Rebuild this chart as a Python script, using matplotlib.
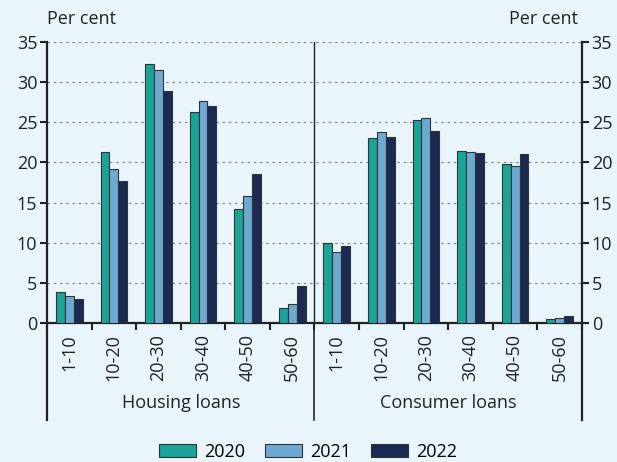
import matplotlib.pyplot as plt
import matplotlib.transforms as mtransforms
import numpy as np

plt.rcParams['font.family'] = ['Open Sans', 'DejaVu Sans']

buckets = ['1-10', '10-20', '20-30', '30-40', '40-50', '50-60']
groups = ['Housing loans', 'Consumer loans']
years = ['2020', '2021', '2022']
colors = ['#1aa397', '#6ea9d1', '#1a2a52']

housing = {
    '2020': [3.9, 21.3, 32.3, 26.3, 14.2, 1.9],
    '2021': [3.3, 19.2, 31.5, 27.7, 15.8, 2.4],
    '2022': [3.0, 17.7, 28.9, 27.0, 18.5, 4.6],
}
consumer = {
    '2020': [10.0, 23.0, 25.3, 21.4, 19.8, 0.5],
    '2021': [8.9, 23.8, 25.5, 21.3, 19.5, 0.6],
    '2022': [9.6, 23.2, 23.9, 21.2, 21.0, 0.9],
}

bg = '#e9f4fb'
fig = plt.figure(figsize=(6.17, 4.62), dpi=100, facecolor=bg)
ax = fig.add_axes([0.0762, 0.301, 0.867, 0.608], facecolor=bg)

n = len(buckets)
x = np.arange(2 * n) + 0.5
w = 0.2
for i, yr in enumerate(years):
    vals = housing[yr] + consumer[yr]
    ax.bar(x + (i - 1) * w, vals, width=w, color=colors[i],
           edgecolor='#333333', linewidth=0.8, label=yr, zorder=3)

ax.set_xlim(0, 2 * n)
ax.set_ylim(0, 35)
ax.set_yticks(range(0, 36, 5))
ax.yaxis.grid(True, color='#888888', linestyle=(0, (2, 3)), linewidth=0.9)
ax.set_axisbelow(True)

for s in ['left', 'right', 'bottom']:
    ax.spines[s].set_linewidth(1.6)
    ax.spines[s].set_color('#222222')
ax.spines['top'].set_visible(False)

ax.tick_params(axis='y', direction='out', length=5, width=1.5,
               labelsize=13, colors='#222222', pad=2)
ax.set_xticks(np.arange(0, 2 * n + 1))
ax.set_xticklabels([])
ax.tick_params(axis='x', direction='out', length=5, width=1.5, colors='#222222')

ax2 = ax.twinx()
ax2.set_ylim(0, 35)
ax2.set_yticks(range(0, 36, 5))
ax2.tick_params(axis='y', direction='out', length=5, width=1.5,
                labelsize=13, colors='#222222', pad=2)
for s in ax2.spines.values():
    s.set_visible(False)

# divider between groups
ax.axvline(n, color='#222222', linewidth=1, zorder=4)

trans = mtransforms.blended_transform_factory(ax.transData, ax.transAxes)
for xv in [0, n, 2 * n]:
    ax.plot([xv, xv], [0, -0.345], transform=trans, color='#222222',
            linewidth=1.2 if xv == n else 1.6, clip_on=False)

labels = buckets + buckets
for xi, lab in zip(x, labels):
    ax.text(xi, -0.04, lab, transform=trans, rotation=90, ha='center',
            va='top', fontsize=13, color='#222222')

for gi, g in enumerate(groups):
    ax.text(gi * n + n / 2, -0.285, g, transform=trans, ha='center',
            va='center', fontsize=13, color='#222222')

fig.text(0.0762, 0.94, 'Per cent', ha='left', va='bottom', fontsize=13, color='#222222')
fig.text(0.937, 0.94, 'Per cent', ha='right', va='bottom', fontsize=13, color='#222222')

handles, lbls = ax.get_legend_handles_labels()
fig.legend(handles, lbls, loc='center', bbox_to_anchor=(0.5, 0.022), ncol=3,
           frameon=False, fontsize=13, handlelength=2.0, handleheight=0.7,
           columnspacing=1.1, handletextpad=0.5)

fig.savefig('out.png', dpi=100, facecolor=bg)
